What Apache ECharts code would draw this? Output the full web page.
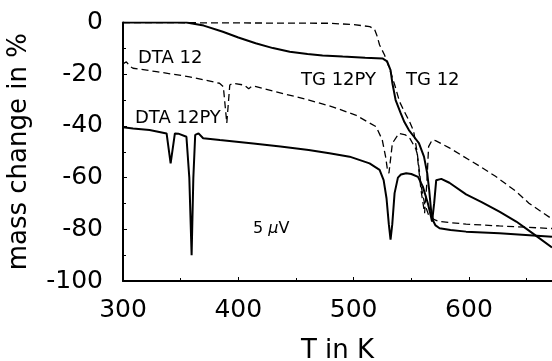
<!DOCTYPE html>
<html>
<head>
<meta charset="utf-8">
<script src="https://cdn.jsdelivr.net/npm/echarts@6/dist/echarts.min.js"></script>
<style>
html,body{margin:0;padding:0;background:#fff;}
#chart{width:552px;height:361px;}
</style>
</head>
<body>
<div id="chart"></div>
<script>
// Temperature (K) and mass change (%)
const tg12pyT = [300, 330, 355, 370, 386.6, 400, 415, 430, 444.6, 460, 473, 490.5, 510, 525, 529, 532, 533.6, 536.4, 540.7, 544, 547.9, 552, 556.6, 561, 563.8, 565.5, 567, 568.6, 571, 574.5, 584, 597.5, 626.4, 672];
const tg12pyV = [0, 0, 0, -1.2, -3.6, -5.8, -8, -9.9, -11.3, -12.2, -12.8, -13.2, -13.6, -13.9, -15, -18.4, -23.5, -30, -35, -38.5, -41.6, -44, -46.7, -51.9, -58.3, -64.8, -72, -76.4, -78.5, -79.6, -80.3, -80.9, -81.5, -82.9];

const tg12T = [300, 360, 479, 500, 514, 518, 520, 522.5, 526.8, 531, 535.5, 539.8, 544, 548.5, 552, 555, 558.6, 561.5, 565, 570, 574.5, 597.5, 626.4, 672];
const tg12V = [0, -0.1, -0.3, -0.8, -1.6, -2.5, -4.8, -8.7, -12.6, -17.7, -24, -30.6, -34.5, -38.4, -42, -50, -63.5, -70, -74.5, -76.3, -77, -78, -78.7, -79.7];

const dta12T = [300, 302.9, 306, 308.7, 329, 357.7, 383.7, 387, 390, 392.6, 395, 405, 409, 412, 415.4, 432.5, 461.3, 481.6, 501.7, 519.5, 524.8, 527.7, 529.5, 530.6, 533.6, 539.3, 545, 549, 553.7, 555, 558.4, 561.5, 563.5, 565, 568, 571, 583, 594, 609, 623, 641, 652, 672];
const dta12V = [-16, -15.2, -17, -17.7, -19, -21, -23.5, -24.8, -38.9, -24.2, -23.5, -24.2, -25.6, -24.6, -24.8, -26.8, -30, -32.6, -35.8, -40.3, -45.4, -51.9, -57.5, -58.3, -46.7, -42.9, -43.5, -45, -48.7, -50.6, -64.8, -73.8, -62, -48, -45.5, -45.7, -48.5, -51.5, -55.5, -59.5, -65.4, -69.9, -76];

const dta12pyT = [300, 308.7, 323, 337.8, 341.3, 345, 348, 355, 357.5, 359.5, 361, 362.6, 365.5, 369.5, 384, 413, 436.5, 461, 479, 496.5, 513.8, 522.5, 526, 528.5, 530.5, 532, 533.5, 535.5, 538.4, 541, 545.6, 550, 555.8, 560, 564.4, 566.5, 568, 569.8, 571.6, 576, 583, 597.5, 611, 626.4, 641, 655, 672];
const dta12pyV = [-40.5, -41, -41.6, -42.9, -54.5, -42.9, -43, -44.2, -60, -90, -60, -43.5, -42.9, -44.8, -45.5, -46.8, -48, -49.3, -50.6, -51.9, -54.5, -57, -61, -68, -78, -84, -78, -66, -60, -58.8, -58.3, -58.6, -59.7, -63.5, -70, -74, -77, -70, -61, -60.5, -62, -66.5, -69.5, -73.2, -77, -81.5, -87];

const xTicks = [300, 400, 500, 600];
const yTicks = [0, -20, -40, -60, -80, -100];

function zip(a, b) { return a.map((t, i) => [t, b[i]]); }

const chart = echarts.init(document.getElementById('chart'), null, {renderer: 'canvas'});
const FONT = 'DejaVu Sans';
const dashed = [7, 4];

chart.setOption({
  animation: false,
  backgroundColor: '#ffffff',
  textStyle: {fontFamily: FONT, color: '#000'},
  grid: {left: 123, top: 22.5, right: 0, bottom: 80, containLabel: false, outerBoundsMode: 'none'},
  xAxis: {
    type: 'value', min: 300, max: 672, interval: 100,
    name: 'T in K', nameLocation: 'middle', nameGap: 57,
    nameTextStyle: {fontSize: 26, fontFamily: FONT, color: '#000'},
    axisLine: {onZero: false, lineStyle: {color: '#000', width: 2}},
    axisTick: {show: true, inside: true, length: 4, lineStyle: {color: '#000', width: 1}},
    minorTick: {show: true, splitNumber: 2, length: 3, lineStyle: {color: '#000', width: 1}},
    splitLine: {show: false},
    axisLabel: {fontSize: 25, color: '#000', fontFamily: FONT, margin: 17,
      formatter: v => xTicks.indexOf(v) >= 0 ? String(v) : ''}
  },
  yAxis: {
    type: 'value', min: -100, max: 0, interval: 20,
    name: 'mass change in %', nameLocation: 'middle', nameGap: 91,
    nameTextStyle: {fontSize: 26, fontFamily: FONT, color: '#000'},
    axisLine: {show: true, onZero: false, lineStyle: {color: '#000', width: 2}},
    axisTick: {show: true, inside: true, length: 4, lineStyle: {color: '#000', width: 1}},
    minorTick: {show: true, splitNumber: 2, length: 3, lineStyle: {color: '#000', width: 1}},
    splitLine: {show: false},
    axisLabel: {fontSize: 25, color: '#000', fontFamily: FONT, margin: 20,
      formatter: v => yTicks.indexOf(v) >= 0 ? String(v) : ''}
  },
  series: [
    {name: 'DTA 12', type: 'line', data: zip(dta12T, dta12V), showSymbol: false, symbol: 'none',
      lineStyle: {color: '#000', width: 1.3, type: dashed}},
    {name: 'TG 12', type: 'line', data: zip(tg12T, tg12V), showSymbol: false, symbol: 'none',
      lineStyle: {color: '#000', width: 1.3, type: dashed}},
    {name: 'DTA 12PY', type: 'line', data: zip(dta12pyT, dta12pyV), showSymbol: false, symbol: 'none',
      lineStyle: {color: '#000', width: 2}},
    {name: 'TG 12PY', type: 'line', data: zip(tg12pyT, tg12pyV), showSymbol: false, symbol: 'none',
      lineStyle: {color: '#000', width: 2}}
  ],
  graphic: [
    {type: 'text', x: 138, y: 58, style: {text: 'DTA 12', fontSize: 18, fontFamily: FONT, fill: '#000', verticalAlign: 'middle'}},
    {type: 'text', x: 135, y: 118, style: {text: 'DTA 12PY', fontSize: 18, fontFamily: FONT, fill: '#000', verticalAlign: 'middle'}},
    {type: 'text', x: 301, y: 80, style: {text: 'TG 12PY', fontSize: 18, fontFamily: FONT, fill: '#000', verticalAlign: 'middle'}},
    {type: 'text', x: 406, y: 80, style: {text: 'TG 12', fontSize: 18, fontFamily: FONT, fill: '#000', verticalAlign: 'middle'}},
    {type: 'text', x: 253, y: 229, style: {text: '5 {i|μ}V', fontSize: 16, fontFamily: FONT, fill: '#000', verticalAlign: 'middle',
      rich: {i: {fontStyle: 'italic', fontSize: 16, fontFamily: FONT, fill: '#000'}}}}
  ]
});
</script>
</body>
</html>
